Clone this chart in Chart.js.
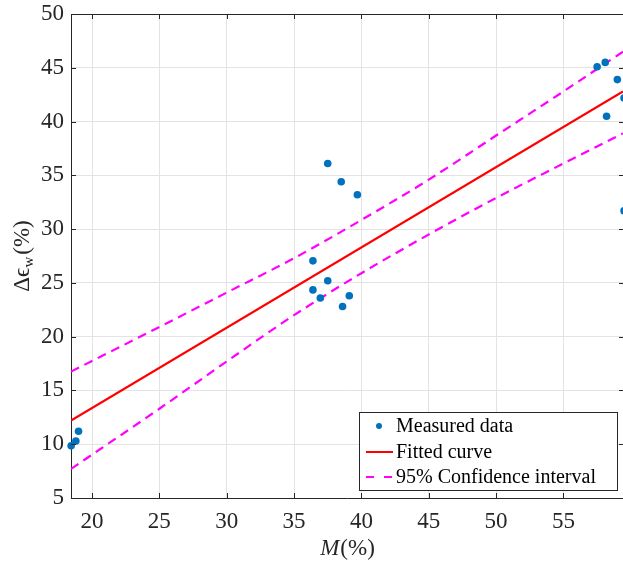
<!DOCTYPE html>
<html>
<head>
<meta charset="utf-8">
<script src="https://cdn.jsdelivr.net/npm/chart.js@4/dist/chart.umd.min.js"></script>
<style>
  body { margin: 0; background: #fff; }
  canvas { display: block; }
</style>
</head>
<body>
<canvas id="fit-chart" width="623" height="563"></canvas>
<script>
// values
const measuredX = [36.4, 36.4, 36.95, 37.5, 37.5, 38.5, 38.6, 39.1, 39.7, 57.5, 58.1, 58.2, 59.0, 59.5, 59.5, 18.45, 18.8, 19.0];
const measuredY = [27.05, 24.35, 23.6, 36.1, 25.2, 34.4, 22.8, 23.8, 33.2, 45.1, 45.5, 40.5, 43.9, 42.2, 31.7, 9.85, 10.3, 11.2];

const fitX = [18.44, 59.42];
const fitY = [12.2, 42.8];

const ciX = [18.44, 25, 30, 35, 40, 45, 50, 55, 59.42];
const ciUpper = [16.75, 20.9, 24.1, 27.3, 30.85, 34.6, 38.7, 42.8, 46.5];
const ciLower = [7.7, 13.3, 17.7, 22.0, 25.9, 29.5, 32.9, 36.1, 38.9];

const xTicks = [20, 25, 30, 35, 40, 45, 50, 55];
const yTicks = [5, 10, 15, 20, 25, 30, 35, 40, 45, 50];

const axisColor = '#262626';
const gridColor = '#e3e3e3';
const serif = '"Liberation Serif", "DejaVu Serif", serif';

const pts = (xs, ys) => xs.map((x, i) => ({ x: x, y: ys[i] }));

// frame, inner ticks, axis titles and legend box
const decorations = {
    id: 'decorations',
    afterDatasetsDraw(chart) {
        const c = chart.ctx;
        const a = chart.chartArea;
        const sx = chart.scales.x, sy = chart.scales.y;
        c.save();
        c.strokeStyle = axisColor;
        c.lineWidth = 1;
        c.beginPath();
        c.moveTo(a.left, a.top + 0.5);
        c.lineTo(a.right, a.top + 0.5);
        xTicks.forEach(v => {
            const px = Math.round(sx.getPixelForValue(v)) + 0.5;
            c.moveTo(px, a.bottom); c.lineTo(px, a.bottom - 5);
            c.moveTo(px, a.top); c.lineTo(px, a.top + 5);
        });
        yTicks.forEach(v => {
            const py = Math.round(sy.getPixelForValue(v)) + 0.5;
            c.moveTo(a.left, py); c.lineTo(a.left + 5, py);
            c.moveTo(a.right, py); c.lineTo(a.right - 4, py);
        });
        c.stroke();

        // legend
        const lx = 359, ly = 412, lw = 258, lh = 78;
        c.fillStyle = '#fff';
        c.fillRect(lx, ly, lw, lh);
        c.strokeRect(lx + 0.5, ly + 0.5, lw, lh);
        const ds = chart.data.datasets;
        const rows = [426, 452, 477];
        c.font = '20px ' + serif;
        c.textBaseline = 'middle';
        c.textAlign = 'left';
        rows.forEach((ry, i) => {
            const d = ds[i];
            if (i === 0) {
                c.fillStyle = d.backgroundColor;
                c.beginPath();
                c.arc(379, ry, 3, 0, Math.PI * 2);
                c.fill();
            } else {
                c.strokeStyle = d.borderColor;
                c.lineWidth = 2;
                c.setLineDash(d.borderDash ? [8, 10] : []);
                c.beginPath();
                c.moveTo(366, ry); c.lineTo(393, ry);
                c.stroke();
                c.setLineDash([]);
            }
            c.fillStyle = '#000';
            c.fillText(d.label, 396, ry + 1);
        });

        // x title: M(%)
        c.fillStyle = axisColor;
        c.textBaseline = 'alphabetic';
        c.font = 'italic 23px ' + serif;
        const mW = c.measureText('M').width;
        c.font = '23px ' + serif;
        const pW = c.measureText('(%)').width;
        let tx = 347 - (mW + pW) / 2;
        c.font = 'italic 23px ' + serif;
        c.fillText('M', tx, 555);
        c.font = '23px ' + serif;
        c.fillText('(%)', tx + mW + 1, 555);

        // y title: Δϵw(%)
        c.translate(29, 256);
        c.rotate(-Math.PI / 2);
        c.font = '23px ' + serif;
        const w1 = c.measureText('Δϵ').width;
        const w3 = c.measureText('(%)').width;
        c.font = '15px ' + serif;
        const w2 = c.measureText('w').width;
        let ty = -(w1 + w2 + w3 + 2) / 2;
        c.font = '23px ' + serif;
        c.fillText('Δϵ', ty, 0);
        c.font = '15px ' + serif;
        c.fillText('w', ty + w1, 4);
        c.font = '23px ' + serif;
        c.fillText('(%)', ty + w1 + w2 + 2, 0);
        c.restore();
    }
};

new Chart(document.getElementById('fit-chart'), {
    type: 'scatter',
    data: {
        datasets: [{
            label: 'Measured data',
            data: pts(measuredX, measuredY),
            backgroundColor: '#0072BD',
            borderColor: '#0072BD',
            pointRadius: 3.8,
            pointBorderWidth: 0,
            clip: false,
            order: 0
        }, {
            label: 'Fitted curve',
            data: pts(fitX, fitY),
            showLine: true,
            borderColor: '#ff0000',
            borderWidth: 2.2,
            pointRadius: 0,
            order: 1
        }, {
            label: '95% Confidence interval',
            data: pts(ciX, ciUpper),
            showLine: true,
            borderColor: '#ff00ff',
            borderWidth: 2.2,
            borderDash: [9, 6],
            cubicInterpolationMode: 'monotone',
            pointRadius: 0,
            order: 2
        }, {
            label: 'lower',
            data: pts(ciX, ciLower),
            showLine: true,
            borderColor: '#ff00ff',
            borderWidth: 2.2,
            borderDash: [9, 6],
            cubicInterpolationMode: 'monotone',
            pointRadius: 0,
            order: 2
        }]
    },
    options: {
        responsive: false,
        animation: false,
        layout: { autoPadding: false, padding: { top: 14, left: 0, right: 0, bottom: 0 } },
        scales: {
            x: {
                type: 'linear',
                min: 18.44,
                max: 59.42,
                afterBuildTicks: (s) => { s.ticks = xTicks.map(v => ({ value: v })); },
                afterFit: (s) => { s.height = 65; s.paddingLeft = 0; s.paddingRight = 0; },
                grid: { color: gridColor, drawTicks: false },
                border: { color: axisColor, width: 1 },
                ticks: {
                    padding: 10,
                    color: axisColor,
                    maxRotation: 0,
                    font: { family: serif, size: 23 }
                }
            },
            y: {
                min: 5,
                max: 50,
                afterBuildTicks: (s) => { s.ticks = yTicks.map(v => ({ value: v })); },
                afterFit: (s) => { s.width = 71; s.paddingTop = 0; s.paddingBottom = 0; },
                grid: { color: gridColor, drawTicks: false },
                border: { color: axisColor, width: 1 },
                ticks: {
                    padding: 7,
                    color: axisColor,
                    font: { family: serif, size: 23 }
                }
            }
        },
        plugins: {
            legend: { display: false },
            tooltip: { enabled: false }
        }
    },
    plugins: [decorations]
});
</script>
</body>
</html>
